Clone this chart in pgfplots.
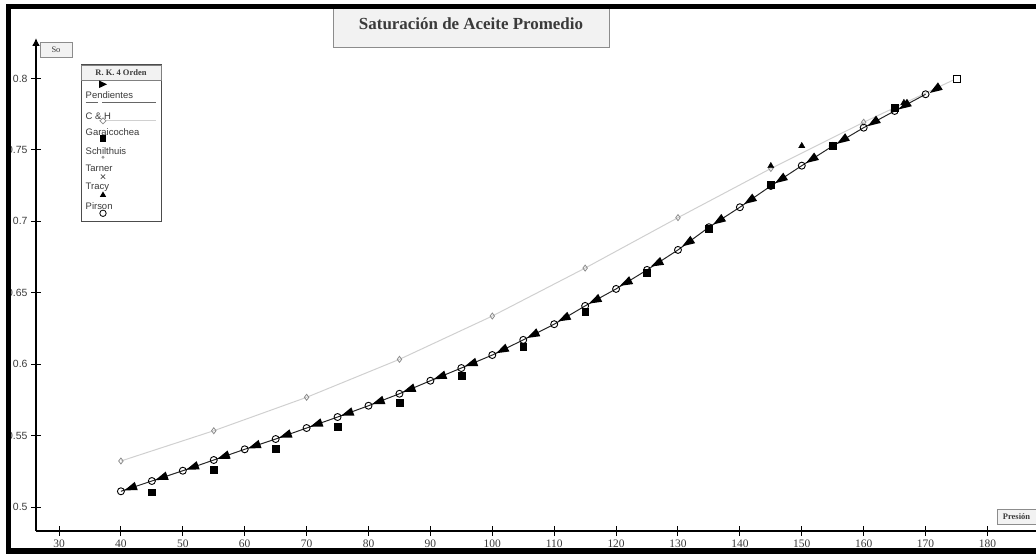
\documentclass[border=0pt]{standalone}
\usepackage{pgfplots}
\pgfplotsset{compat=1.18}
\usetikzlibrary{arrows.meta}
\usepackage{fontspec}
\setmainfont{Liberation Serif}
\newfontfamily\arialf{Liberation Sans}
\definecolor{boxgray}{HTML}{F2F2F2}
\definecolor{txtgray}{HTML}{3A3A3A}
\definecolor{chgray}{HTML}{D0D0D0}
\definecolor{diagray}{HTML}{8C8C8C}
\pgfdeclareplotmark{larrow}{%
  \pgfpathmoveto{\pgfqpoint{-6.8bp}{0bp}}%
  \pgfpathlineto{\pgfqpoint{5.8bp}{4.4bp}}%
  \pgfpathlineto{\pgfqpoint{5.8bp}{-4.4bp}}%
  \pgfpathclose\pgfusepathqfill}
\begin{document}
\begin{tikzpicture}[x=1bp,y=1bp]
\useasboundingbox (0,0) rectangle (1036,554);
\begin{axis}[
  at={(36bp,23bp)}, anchor=south west,
  scale only axis, width=1000bp, height=493bp,
  xmin=26.28, xmax=187.84, ymin=0.4832, ymax=0.8284,
  axis lines=left,
  x axis line style={-, line width=1.6bp},
  y axis line style={-{Latex[length=8bp,width=8bp]}, line width=1.6bp},
  xtick={30,40,...,180},
  ytick={0.5,0.55,0.6,0.65,0.7,0.75,0.8},
  tick align=center, major tick length=10bp,
  tick style={line width=1bp, black},
  /pgf/number format/assume math mode=true,
  /pgf/number format/fixed,
  xticklabel style={font=\fontsize{11.5}{12}\selectfont, text=txtgray},
  yticklabel style={font=\arialf\fontsize{10.5}{12}\selectfont, text=txtgray},
  clip=false,
]
% C & H
\addplot[color=chgray, line width=1bp, mark=diamond, mark size=3bp,
  mark options={draw=diagray, fill=white, line width=0.8bp}]
coordinates {(40,0.5322)(55,0.5534)(70,0.5768)(85,0.6034)(100,0.6337)(115,0.6673)(130,0.7026)(145,0.7370)(160,0.7694)(175,0.8000)};
% R.K. 4 Orden / Pirson
\addplot[color=black!85, line width=1bp, mark=o, mark size=3.5bp,
  mark options={draw=black, fill=white, line width=0.9bp}]
coordinates {(40,0.5110)(45,0.5182)(50,0.5254)(55,0.5329)(60,0.5404)(65,0.5476)(70,0.5553)(75,0.5630)(80,0.5709)(85,0.5793)(90,0.5884)(95,0.5973)(100,0.6064)(105,0.6170)(110,0.6280)(115,0.6408)(120,0.6527)(125,0.6660)(130,0.6800)(135,0.6959)(140,0.7099)(145,0.7248)(150,0.7390)(155,0.7528)(160,0.7656)(165,0.7773)(170,0.7890)};
\addplot[only marks, mark=square*, mark size=3.5bp, mark options={draw=black, fill=white, line width=1bp}]
coordinates {(175,0.8000)};
% Garaicochea
\addplot[only marks, mark=square*, mark size=3.4bp, mark options={fill=black, draw=black}]
coordinates {(45,0.5103)(55,0.5259)(65,0.5411)(75,0.5565)(85,0.5728)(95,0.5920)(105,0.6125)(115,0.6370)(125,0.6640)(135,0.6950)(145,0.7255)(155,0.7530)(165,0.7796)};
% Tracy
\addplot[only marks, mark=triangle*, mark size=3.6bp, mark options={fill=black, draw=black}]
coordinates {(145,0.7388)(150,0.7528)(166.5,0.7830)};
% Pendientes
\addplot[only marks, mark=larrow, mark options={rotate=20, fill=black}]
coordinates {(41.6,0.5133)(46.6,0.5205)(51.6,0.5278)(56.6,0.5353)(61.6,0.5427)(66.6,0.5501)(71.6,0.5578)(76.6,0.5655)(81.6,0.5736)(86.6,0.5822)(91.6,0.5912)(96.6,0.6002)};
\addplot[only marks, mark=larrow, mark options={rotate=27, fill=black}]
coordinates {(101.6,0.6098)(106.6,0.6205)(111.6,0.6321)(116.6,0.6446)(121.6,0.6570)(126.6,0.6705)};
\addplot[only marks, mark=larrow, mark options={rotate=33, fill=black}]
coordinates {(131.6,0.6851)(136.6,0.7004)(141.6,0.7147)(146.6,0.7293)(151.6,0.7434)(156.6,0.7569)(161.6,0.7693)(166.6,0.7810)(171.6,0.7925)};
\end{axis}
% title box
\draw[draw=black!45, fill=boxgray, line width=0.8bp] (333,507) rectangle (609,549);
\node[font=\bfseries\fontsize{17}{20}\selectfont, text=txtgray] at (471,530) {Saturación de Aceite Promedio};
% outer frame
\draw[line width=5.5bp, black] (8.5,3) rectangle (1050,547.5);
% So box
\draw[draw=black!45, fill=boxgray, line width=0.6bp] (40,497) rectangle (72,512);
\node[font=\fontsize{8.5}{9}\selectfont, text=txtgray] at (56,504.5) {So};
% Presion box
\draw[draw=black!45, fill=boxgray, line width=0.6bp] (997,30) rectangle (1040,45);
\node[font=\bfseries\fontsize{8.5}{9}\selectfont, text=txtgray] at (1016.5,37.5) {Presión};
% legend
\draw[draw=black!70, fill=white, line width=1bp] (81,332) rectangle (161,489);
\draw[draw=black!50, fill=boxgray, line width=0.6bp] (81,474) rectangle (161,489);
\node[font=\bfseries\fontsize{8.5}{9}\selectfont, text=txtgray] at (121,481.5) {R. K. 4 Orden};
\fill[black] (107,469.7) -- (99,473.5) -- (99,465.9) -- cycle;
\draw[black!60, line width=1.5bp] (85.5,451.3) -- (98.3,451.3);
\draw[black!60, line width=1.5bp] (102.3,451.3) -- (156,451.3);
\draw[chgray, line width=0.8bp] (99,433.3) -- (156,433.3);
\draw[diagray, fill=white, line width=0.7bp] (103,436) -- (106,433) -- (103,430) -- (100,433) -- cycle;
\fill[black] (99.6,412.3) rectangle (106.4,419.1);
\fill[black!40] (103,396.7) circle (1.6);
\draw[black!70, line width=0.7bp] (100.8,375.1) -- (105.2,379.5) (100.8,379.5) -- (105.2,375.1);
\fill[black] (103,362.6) -- (106.1,357.2) -- (99.9,357.2) -- cycle;
\draw[black, fill=white, line width=0.8bp] (103,340.7) circle (3.2);
\begin{scope}[every node/.style={anchor=west, font=\arialf\fontsize{9.5}{10}\selectfont, text=txtgray, inner sep=0pt}]
\node at (85.5,459) {Pendientes};
\node at (85.5,438) {C \& H};
\node at (85.5,422) {Garaicochea};
\node at (85.5,403.3) {Schilthuis};
\node at (85.5,386) {Tarner};
\node at (85.5,367) {Tracy};
\node at (85.5,348.3) {Pirson};
\end{scope}
\end{tikzpicture}
\end{document}
